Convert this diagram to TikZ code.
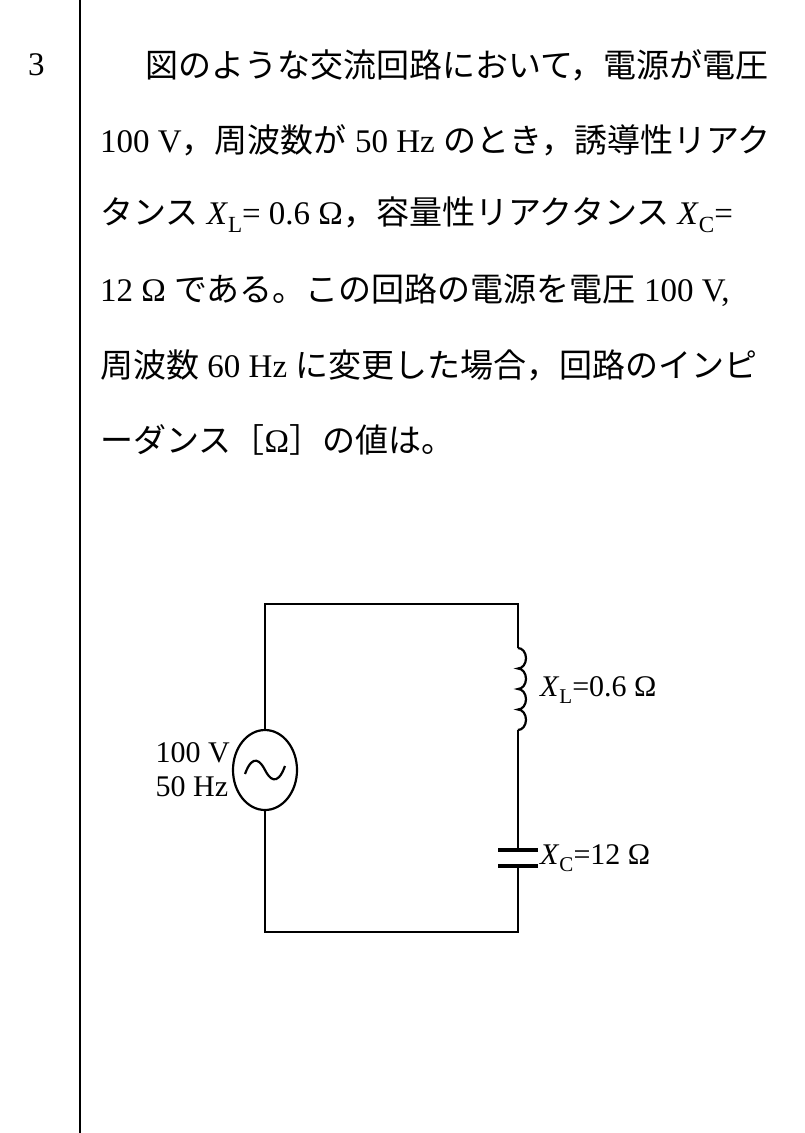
\documentclass[tikz,border=0pt]{standalone}
\usepackage{fontspec}
\setmainfont{Liberation Serif}
\newfontfamily\jpfont{Noto Sans CJK JP}
\newcommand{\J}[1]{{\jpfont #1}}
\newcommand{\Xs}[1]{\textit{X}\raisebox{-0.25em}{\scalebox{0.7}{#1}}}
\usetikzlibrary{positioning,calc,shapes.geometric}
\tikzset{
  textline/.style={anchor=west, inner sep=0pt, font=\fontsize{33}{40}\selectfont},
  wire/.style={line width=2.2pt},
  lbl/.style={inner sep=0pt, font=\fontsize{30}{34}\selectfont}
}
\begin{document}
\begin{tikzpicture}[x=1pt,y=-1pt]
\useasboundingbox (0,0) rectangle (805,1133);
\draw [line width=1.6pt] (80,0) -- (80,1133);
\node [textline] (num) at (28,65) {3};
\node [textline] (l1) at (145,65) {\J{図のような交流回路において，電源が電圧}};
\node [textline] (l2) at (100,140) {100 V\J{，周波数が} 50 Hz \J{のとき，誘導性リアク}};
\node [textline] (l3) at (100,215) {\J{タンス} \Xs{L}= 0.6 Ω\J{，容量性リアクタンス} \Xs{C}=};
\node [textline] (l4) at (100,290) {12 Ω \J{である。この回路の電源を電圧} 100 V,};
\node [textline] (l5) at (100,365) {\J{周波数} 60 Hz \J{に変更した場合，回路のインピ}};
\node [textline] (l6) at (100,440) {\J{ーダンス［}Ω\J{］の値は。}};
% circuit
\coordinate (tl) at (265,604);
\coordinate (tr) at (518,604);
\coordinate (bl) at (265,932);
\coordinate (br) at (518,932);
\node [draw, wire, ellipse, minimum width=64pt, minimum height=80pt, inner sep=0pt] (src) at (265,770) {};
\draw [wire] ($(src.center)+(-20,4)$) .. controls ($(src.center)+(-12,-18)$) and ($(src.center)+(-4,-8)$) .. (src.center)
  .. controls ($(src.center)+(4,8)$) and ($(src.center)+(12,18)$) .. ($(src.center)+(20,-4)$);
\coordinate (L1) at (518,648);
\coordinate (L2) at (518,730);
\coordinate (C1) at (518,850);
\coordinate (C2) at (518,866);
\draw [wire] (src.north) -- (tl) -- (tr) -- (L1);
\draw [wire] (L1) \foreach \i in {0,1,2,3} { arc[start angle=-90, end angle=90, x radius=8, y radius=10.25] };
\draw [wire] (L2) -- (C1);
\draw [wire] (C2) -- (br) -- (bl) -- (src.south);
\draw [line width=4pt] ($(C1)+(-20,0)$) -- ($(C1)+(20,0)$);
\draw [line width=4pt] ($(C2)+(-20,0)$) -- ($(C2)+(20,0)$);
\node [lbl, anchor=west] (xl) at (540,690) {\Xs{L}=0.6 Ω};
\node [lbl, anchor=west] (xc) at (540,858) {\Xs{C}=12 Ω};
\node [lbl, anchor=east, align=left] (vs) at (230,770) {100 V\\50 Hz};
\end{tikzpicture}
\end{document}
